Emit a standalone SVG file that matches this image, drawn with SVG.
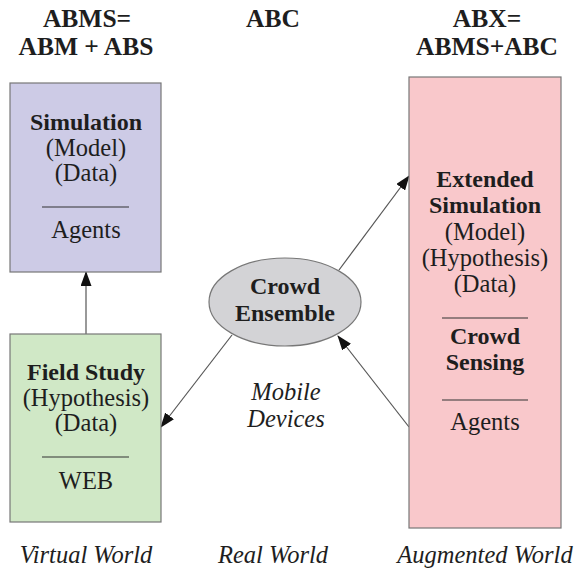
<svg xmlns="http://www.w3.org/2000/svg" width="580" height="571" viewBox="0 0 580 571" font-family="'Liberation Serif', 'DejaVu Serif', serif">
  <style>
    text { fill: #1e1e1e; text-anchor: middle; }
    .hd { font-size: 25.5px; font-weight: bold; }
    .b { font-size: 24px; font-weight: bold; }
    .r { font-size: 24.5px; }
    .it { font-size: 24.5px; font-style: italic; }
    .box { stroke: #777; stroke-width: 1.2; }
    .sep { stroke: #333; stroke-width: 1.2; }
    .conn line { stroke: #555; stroke-width: 1.2; marker-end: url(#head); }
  </style>
  <defs>
    <marker id="head" viewBox="0 0 15 11" refX="14" refY="5.5" markerWidth="15" markerHeight="11" markerUnits="userSpaceOnUse" orient="auto">
      <path d="M0,0 L15,5.5 L0,11 Z" fill="#111"/>
    </marker>
  </defs>
  <rect width="580" height="571" fill="#fff"/>

  <!-- column headers -->
  <g id="headers">
    <text class="hd" x="87" y="27">ABMS=</text>
    <text class="hd" x="86" y="55">ABM + ABS</text>
    <text class="hd" x="273" y="27">ABC</text>
    <text class="hd" x="487" y="27">ABX=</text>
    <text class="hd" x="487" y="55">ABMS+ABC</text>
  </g>

  <!-- connectors -->
  <g id="connectors" class="conn">
    <line x1="86" y1="334" x2="86" y2="272"/>
    <line x1="339" y1="270" x2="409" y2="176"/>
    <line x1="232" y1="335" x2="161" y2="427"/>
    <line x1="409" y1="427" x2="338" y2="336"/>
  </g>

  <g id="simulation">
    <rect class="box" x="10" y="83" width="151" height="189" fill="#cdcbe6"/>
    <text class="b" x="86" y="130">Simulation</text>
    <text class="r" x="86" y="156">(Model)</text>
    <text class="r" x="86" y="181">(Data)</text>
    <line class="sep" x1="42" y1="207" x2="129" y2="207"/>
    <text class="r" x="86" y="238">Agents</text>
  </g>

  <g id="field-study">
    <rect class="box" x="10" y="334" width="151" height="188" fill="#d0e8c6"/>
    <text class="b" x="86" y="380">Field Study</text>
    <text class="r" x="86" y="406">(Hypothesis)</text>
    <text class="r" x="86" y="431">(Data)</text>
    <line class="sep" x1="42" y1="457" x2="129" y2="457"/>
    <text class="r" x="86" y="489">WEB</text>
  </g>

  <g id="extended-simulation">
    <rect class="box" x="409" y="77" width="152" height="451" fill="#f9c8cb"/>
    <text class="b" x="485" y="187">Extended</text>
    <text class="b" x="485" y="213">Simulation</text>
    <text class="r" x="485" y="240">(Model)</text>
    <text class="r" x="485" y="266">(Hypothesis)</text>
    <text class="r" x="485" y="292">(Data)</text>
    <line class="sep" x1="442" y1="318" x2="528" y2="318"/>
    <text class="b" x="485" y="344">Crowd</text>
    <text class="b" x="485" y="370">Sensing</text>
    <line class="sep" x1="442" y1="400" x2="528" y2="400"/>
    <text class="r" x="485" y="430">Agents</text>
  </g>

  <g id="crowd-ensemble">
    <ellipse class="box" cx="285" cy="302" rx="76" ry="44" fill="#d3d3d6"/>
    <text class="b" x="285" y="294">Crowd</text>
    <text class="b" x="285" y="321">Ensemble</text>
  </g>

  <g id="mobile-devices">
    <text class="it" x="286" y="400">Mobile</text>
    <text class="it" x="286" y="427">Devices</text>
  </g>

  <!-- world labels -->
  <g id="worlds">
    <text class="it" x="86" y="563">Virtual World</text>
    <text class="it" x="273" y="563">Real World</text>
    <text class="it" x="485" y="563">Augmented World</text>
  </g>
</svg>
